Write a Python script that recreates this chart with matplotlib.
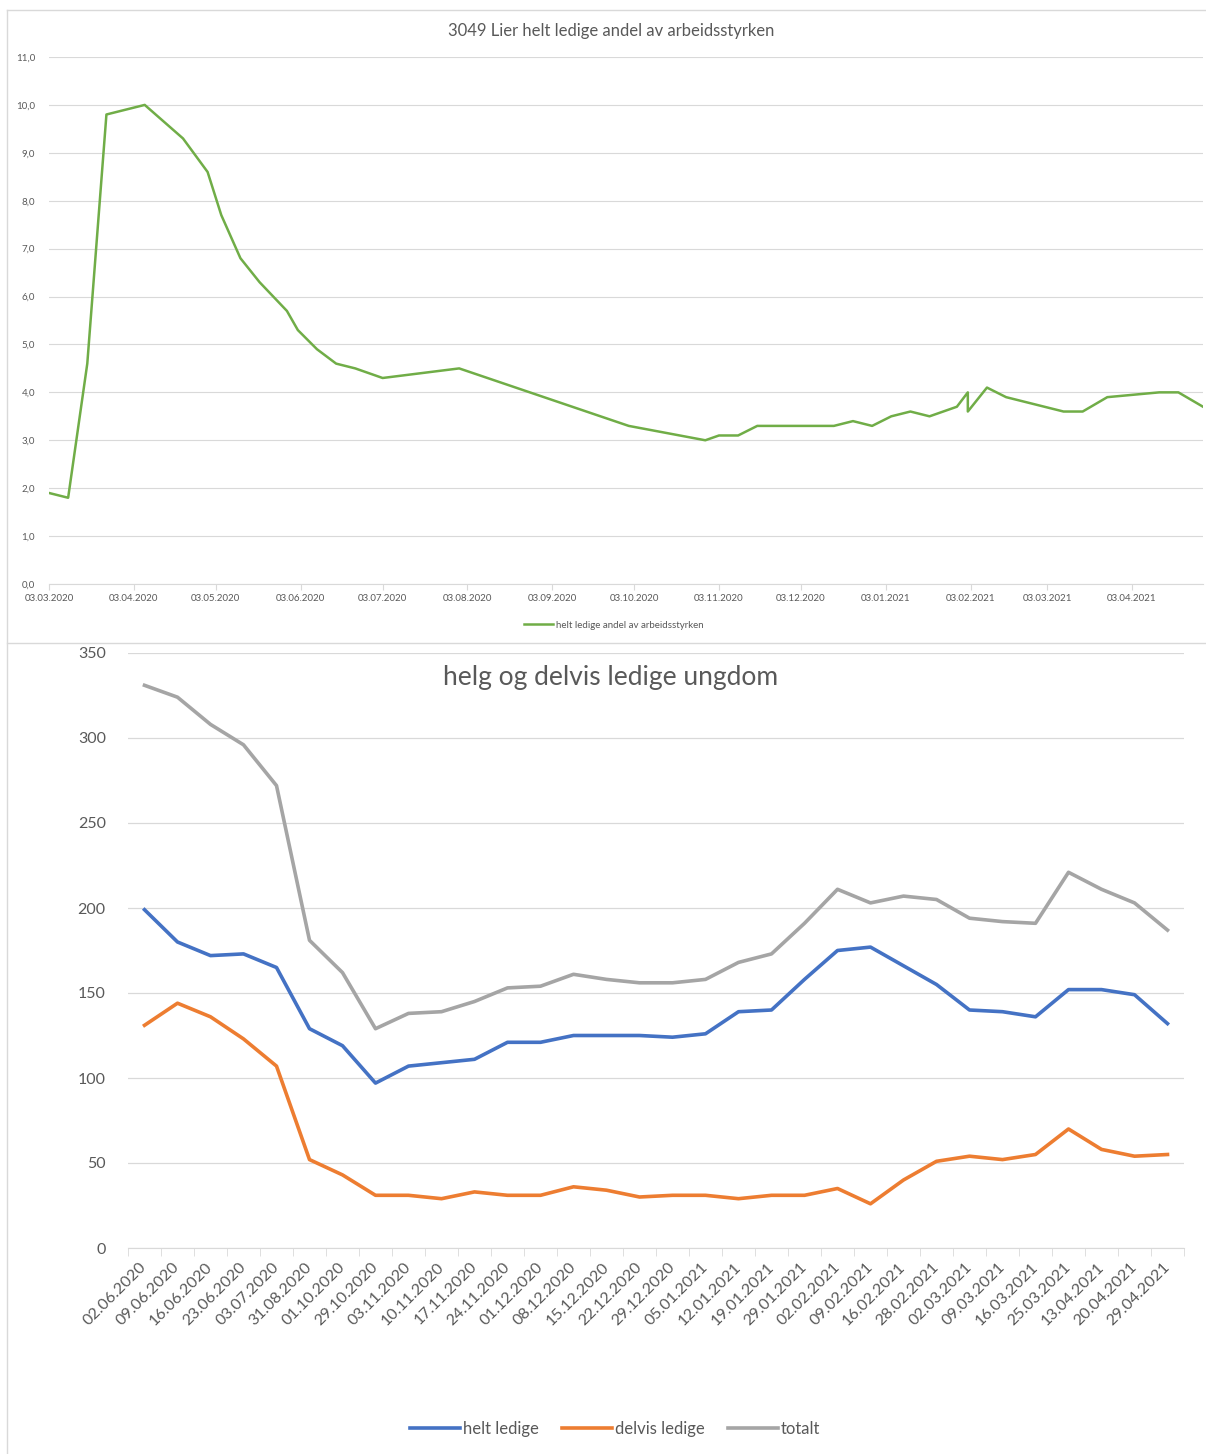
import matplotlib
matplotlib.use("Agg")
import matplotlib.pyplot as plt
import matplotlib.dates as mdates
from matplotlib.lines import Line2D
from matplotlib.ticker import FuncFormatter, MultipleLocator
import pandas as pd

plt.rcParams['font.family'] = ['Lato', 'DejaVu Sans']

# ---------------- data: top chart ----------------
top_title = "3049 Lier helt ledige andel av arbeidsstyrken"
top_series_name = "helt ledige andel av arbeidsstyrken"
top_dates = ["03.03.2020", "10.03.2020", "17.03.2020", "24.03.2020", "07.04.2020",
             "21.04.2020", "30.04.2020", "05.05.2020", "12.05.2020", "19.05.2020",
             "29.05.2020", "02.06.2020", "09.06.2020", "16.06.2020", "23.06.2020",
             "03.07.2020", "31.07.2020", "01.10.2020", "29.10.2020", "03.11.2020",
             "10.11.2020", "17.11.2020", "24.11.2020", "01.12.2020", "08.12.2020",
             "15.12.2020", "22.12.2020", "29.12.2020", "05.01.2021", "12.01.2021",
             "19.01.2021", "29.01.2021", "02.02.2021", "02.02.2021", "09.02.2021",
             "16.02.2021", "02.03.2021", "09.03.2021", "16.03.2021", "25.03.2021",
             "13.04.2021", "20.04.2021", "29.04.2021"]
top_values = [1.9, 1.8, 4.6, 9.8, 10.0,
              9.3, 8.6, 7.7, 6.8, 6.3,
              5.7, 5.3, 4.9, 4.6, 4.5,
              4.3, 4.5, 3.3, 3.0, 3.1,
              3.1, 3.3, 3.3, 3.3, 3.3,
              3.3, 3.4, 3.3, 3.5, 3.6,
              3.5, 3.7, 4.0, 3.6, 4.1,
              3.9, 3.7, 3.6, 3.6, 3.9,
              4.0, 4.0, 3.7]

# ---------------- data: bottom chart ----------------
bottom_title = "helg og delvis ledige ungdom"
categories = ["02.06.2020", "09.06.2020", "16.06.2020", "23.06.2020", "03.07.2020",
              "31.08.2020", "01.10.2020", "29.10.2020", "03.11.2020", "10.11.2020",
              "17.11.2020", "24.11.2020", "01.12.2020", "08.12.2020", "15.12.2020",
              "22.12.2020", "29.12.2020", "05.01.2021", "12.01.2021", "19.01.2021",
              "29.01.2021", "02.02.2021", "09.02.2021", "16.02.2021", "28.02.2021",
              "02.03.2021", "09.03.2021", "16.03.2021", "25.03.2021", "13.04.2021",
              "20.04.2021", "29.04.2021"]
helt_ledige = [199, 180, 172, 173, 165, 129, 119, 97, 107, 109,
               111, 121, 121, 125, 125, 125, 124, 126, 139, 140,
               158, 175, 177, 166, 155, 140, 139, 136, 152, 152,
               149, 132]
delvis_ledige = [131, 144, 136, 123, 107, 52, 43, 31, 31, 29,
                 33, 31, 31, 36, 34, 30, 31, 31, 29, 31,
                 31, 35, 26, 40, 51, 54, 52, 55, 70, 58,
                 54, 55]
totalt = [331, 324, 308, 296, 272, 181, 162, 129, 138, 139,
          145, 153, 154, 161, 158, 156, 156, 158, 168, 173,
          191, 211, 203, 207, 205, 194, 192, 191, 221, 211,
          203, 187]
series_names = ["helt ledige", "delvis ledige", "totalt"]

# ---------------- styling ----------------
W, H = 1206, 1454
TXT = "#595959"
GRID = "#d9d9d9"
GREEN = "#70AD47"
BLUE = "#4472C4"
ORANGE = "#ED7D31"
GRAY = "#A5A5A5"

fig = plt.figure(figsize=(W / 100, H / 100), dpi=100)
fig.patch.set_facecolor("white")


def fx(px):
    return px / W


def fy(py):
    return 1 - py / H


# panel borders
for (x0, y0, x1, y1) in [(7, 10, 1206, 10), (7, 10, 7, 1454), (7, 643, 1206, 643)]:
    fig.add_artist(Line2D([fx(x0), fx(x1)], [fy(y0), fy(y1)], color=GRID, lw=1.0))

# ---------------- top chart ----------------
ax1 = fig.add_axes([fx(49), fy(584), fx(1203) - fx(49), fy(57) - fy(584)])
dates = pd.to_datetime(top_dates, format="%d.%m.%Y")
ax1.plot(dates, top_values, color=GREEN, lw=1.8, solid_joinstyle="round",
         label=top_series_name)
ax1.set_xlim(dates.min(), dates.max())
ax1.set_ylim(0, 11)
ax1.yaxis.set_major_locator(MultipleLocator(1.0))
ax1.yaxis.set_major_formatter(FuncFormatter(lambda v, p: f"{v:.1f}".replace(".", ",")))
ax1.xaxis.set_major_locator(mdates.MonthLocator(bymonthday=3))
ax1.xaxis.set_major_formatter(mdates.DateFormatter("%d.%m.%Y"))
ax1.grid(axis="y", color=GRID, lw=0.8)
ax1.set_axisbelow(True)
for s in ["top", "right", "left"]:
    ax1.spines[s].set_visible(False)
ax1.spines["bottom"].set_color(GRID)
ax1.tick_params(axis="x", colors=GRID, labelcolor=TXT, labelsize=7, length=4, pad=3)
ax1.tick_params(axis="y", length=0, labelcolor=TXT, labelsize=7, pad=10)
fig.text(fx(611), fy(31), top_title, ha="center", va="center", fontsize=12, color=TXT)
ax1.legend(loc="center", bbox_to_anchor=(fx(614), fy(625)), bbox_transform=fig.transFigure,
           frameon=False, fontsize=7, labelcolor=TXT, handlelength=3.0, handletextpad=0.3)

# ---------------- bottom chart ----------------
ax2 = fig.add_axes([fx(128), fy(1248), fx(1184) - fx(128), fy(653) - fy(1248)])
xs = list(range(len(categories)))
ax2.plot(xs, helt_ledige, color=BLUE, lw=2.6, label=series_names[0], solid_joinstyle="round")
ax2.plot(xs, delvis_ledige, color=ORANGE, lw=2.6, label=series_names[1], solid_joinstyle="round")
ax2.plot(xs, totalt, color=GRAY, lw=2.6, label=series_names[2], solid_joinstyle="round")
ax2.set_xlim(-0.5, len(categories) - 0.5)
ax2.set_ylim(0, 350)
ax2.yaxis.set_major_locator(MultipleLocator(50))
ax2.set_xticks(xs)
ax2.set_xticklabels(categories, rotation=45, ha="right", va="center", rotation_mode="anchor")
ax2.set_xticks([i - 0.5 for i in range(len(categories) + 1)], minor=True)
ax2.tick_params(axis="x", which="major", length=0, labelcolor=TXT, labelsize=11.5, pad=12)
ax2.tick_params(axis="x", which="minor", length=6, color=GRID)
ax2.tick_params(axis="y", length=0, labelcolor=TXT, labelsize=11.5, pad=16)
ax2.grid(axis="y", color=GRID, lw=0.9)
ax2.set_axisbelow(True)
for s in ["top", "right", "left"]:
    ax2.spines[s].set_visible(False)
ax2.spines["bottom"].set_color(GRID)
fig.text(fx(611), fy(677), bottom_title, ha="center", va="center", fontsize=19, color=TXT)
ax2.legend(loc="center", bbox_to_anchor=(fx(615), fy(1429)), bbox_transform=fig.transFigure,
           ncol=3, frameon=False, fontsize=12, labelcolor=TXT, handlelength=3.0,
           handletextpad=0.15, columnspacing=1.4)

fig.savefig("out.png", dpi=100, facecolor="white")
